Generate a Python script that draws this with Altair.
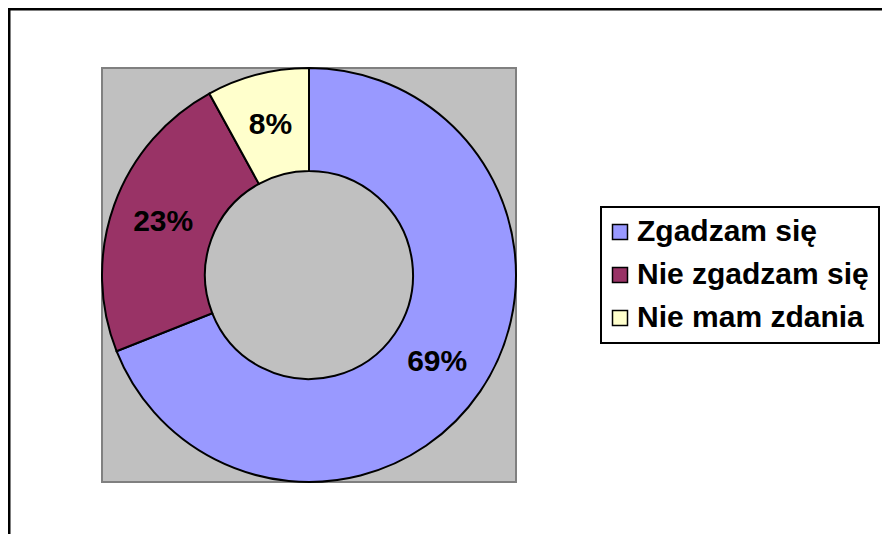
import altair as alt
import pandas as pd

categories = ["Zgadzam się", "Nie zgadzam się", "Nie mam zdania"]
values = [69, 23, 8]
labels = ["69%", "23%", "8%"]
colors = ["#9999FF", "#993366", "#FFFFCC"]
order = [0, 1, 2]

df = pd.DataFrame({"kategoria": categories, "wartosc": values,
                   "etykieta": labels, "kolejnosc": order})
frame_df = pd.DataFrame({"a": [0]})

FONT = "Liberation Sans"
W = 414
H = 414

base = alt.Chart(df).encode(
    theta=alt.Theta("wartosc:Q", stack=True),
    order=alt.Order("kolejnosc:Q"),
)

arcs = base.mark_arc(innerRadius=104, outerRadius=207, stroke="black", strokeWidth=2).encode(
    color=alt.Color(
        "kategoria:N",
        scale=alt.Scale(domain=categories, range=colors),
        legend=alt.Legend(title=None, orient="none", legendX=499, legendY=139),
    )
)

text = base.mark_text(radius=155, font=FONT, fontSize=30, fontWeight="bold", color="black").encode(
    text="etykieta:N"
)

plot_bg = alt.Chart(frame_df).mark_rect(fill="#C0C0C0", stroke="#808080", strokeWidth=2).encode(
    x=alt.value(0), x2=alt.value(W), y=alt.value(0), y2=alt.value(H)
)

frame_top = alt.Chart(frame_df).mark_rule(color="black", strokeWidth=3).encode(
    x=alt.value(-94), x2=alt.value(780), y=alt.value(-59)
)
frame_left = alt.Chart(frame_df).mark_rule(color="black", strokeWidth=3).encode(
    x=alt.value(-93), y=alt.value(-60), y2=alt.value(470)
)

chart = alt.layer(frame_top, frame_left, plot_bg, arcs, text).properties(
    width=W,
    height=H,
    autosize="none",
    padding={"left": 94, "top": 60, "right": 366, "bottom": 52},
    background="white",
).configure_view(
    strokeWidth=0
).configure_legend(
    labelFont=FONT, labelFontSize=30, labelFontWeight="bold", labelColor="black",
    labelLimit=500, labelOffset=2,
    symbolType="square", symbolSize=225, symbolStrokeColor="black", symbolStrokeWidth=1.5,
    symbolOpacity=1, symbolOffset=-6,
    padding=10, rowPadding=13,
    strokeColor="black", strokeWidth=2, fillColor="white",
)

chart.save("out.html", embed_options={"renderer": "svg", "actions": False})
